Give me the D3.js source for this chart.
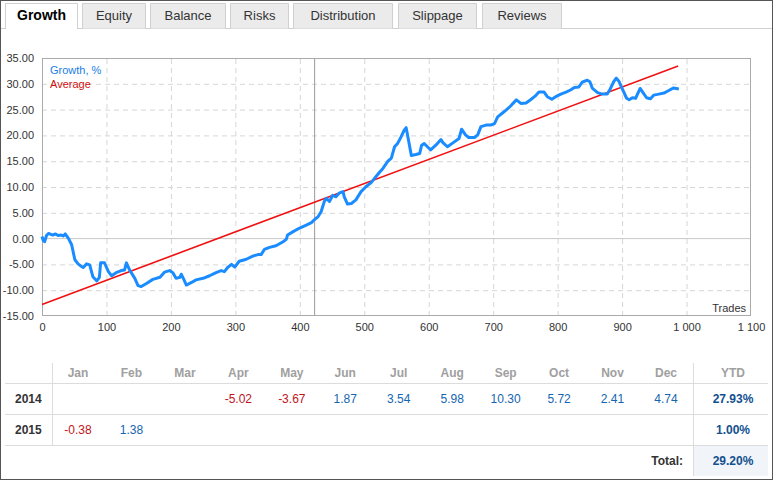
<!DOCTYPE html>
<html>
<head>
<meta charset="utf-8">
<script src="https://cdn.jsdelivr.net/npm/d3@7/dist/d3.min.js"></script>
<style>
  body { margin: 0; background: #fff; }
  svg { display: block; font-family: "Liberation Sans", Arial, sans-serif; }
  .grid line { stroke: #d6d6d6; stroke-dasharray: 5,4; }
  .grid .domain { display: none; }
  .axis text { fill: #333; font-size: 11px; }
  .axis .domain, .axis line { display: none; }
</style>
</head>
<body>
<div id="chart"></div>
<script>
/* ---------- Data ---------- */
const tabs = ["Growth", "Equity", "Balance", "Risks", "Distribution", "Slippage", "Reviews"];
const tabEdges = [[5, 78], [82, 146], [150, 226], [230, 289], [293, 393], [398, 477], [482, 562]];

const trades = [0, 2, 4, 7, 10, 14, 17, 21, 25, 30, 33, 36, 41, 46, 51, 56, 60, 64, 69, 74,
  79, 85, 89, 91, 97, 103, 108, 115, 123, 128, 131, 136, 144, 149, 154, 162, 172, 183, 190, 198,
  203, 208, 214, 216, 220, 224, 232, 239, 250, 260, 270, 278, 283, 288, 294, 299, 306, 317, 327, 335,
  340, 345, 353, 363, 374, 379, 381, 389, 399, 410, 418, 423, 428, 433, 438, 441, 446, 451, 456, 461,
  467, 469, 474, 480, 487, 495, 503, 511, 518, 524, 529, 536, 542, 547, 552, 557, 562, 565, 569, 573,
  580, 586, 589, 593, 598, 603, 611, 619, 622, 629, 637, 647, 651, 657, 662, 671, 676, 681, 689, 696,
  702, 707, 714, 720, 727, 733, 736, 743, 751, 758, 765, 771, 779, 784, 791, 797, 805, 813, 820, 826,
  833, 838, 846, 850, 854, 862, 869, 877, 882, 887, 891, 895, 900, 907, 911, 916, 921, 928, 933, 938,
  944, 949, 957, 965, 971, 980, 988];
const growth = [0.4, -0.4, -0.6, 0.6, 1.0, 0.8, 0.7, 0.9, 0.6, 0.7, 0.5, 0.9, 0.05, -1.2, -4.1, -4.9, -5.3, -5.6, -4.9, -5.1,
  -7.4, -8.2, -7.5, -4.7, -4.7, -6.4, -7.2, -6.6, -6.2, -6.1, -4.7, -6.1, -7.7, -9.1, -9.3, -8.7, -7.9, -7.5, -6.5, -6.2,
  -6.6, -7.7, -7.5, -6.9, -7.9, -9.0, -8.5, -8.0, -7.7, -7.2, -6.6, -6.2, -6.4, -5.6, -5.0, -5.5, -4.4, -4.0, -3.4, -3.1,
  -3.1, -2.1, -1.7, -1.4, -0.6, -0.15, 0.7, 1.3, 2.0, 2.6, 3.1, 3.7, 4.2, 5.2, 7.2, 7.8, 7.2, 8.4, 8.1, 8.8,
  9.1, 8.1, 6.7, 6.8, 7.5, 9.1, 10.1, 10.9, 12.0, 12.9, 13.6, 14.9, 15.6, 17.8, 18.5, 19.7, 21.0, 21.5, 18.8, 16.1,
  16.3, 16.5, 18.1, 18.4, 17.8, 17.2, 18.1, 19.2, 18.6, 17.8, 18.5, 19.4, 21.2, 20.1, 19.6, 19.6, 20.1, 21.7, 22.0, 22.0,
  22.3, 23.6, 24.3, 24.9, 25.7, 26.5, 26.9, 26.2, 26.3, 26.9, 27.6, 28.4, 28.4, 27.5, 27.0, 27.5, 28.0, 28.4, 28.8, 29.3,
  29.4, 30.3, 30.7, 30.4, 29.1, 28.3, 28.0, 28.0, 29.1, 30.4, 31.1, 30.5, 29.1, 27.2, 26.9, 27.3, 27.2, 29.1, 28.2, 27.3,
  27.1, 27.8, 28.0, 28.2, 28.6, 29.2, 29.0];

const avgTrades = [0, 987];
const avgGrowth = [-12.75, 33.45];
const markerTrade = 423;

const xTicks = [0, 100, 200, 300, 400, 500, 600, 700, 800, 900, 1000, 1100];
const yTicks = [-15, -10, -5, 0, 5, 10, 15, 20, 25, 30, 35];

const months = ["Jan", "Feb", "Mar", "Apr", "May", "Jun", "Jul", "Aug", "Sep", "Oct", "Nov", "Dec"];
const years = ["2014", "2015"];
const monthly2014 = [null, null, null, -5.02, -3.67, 1.87, 3.54, 5.98, 10.30, 5.72, 2.41, 4.74];
const monthly2015 = [-0.38, 1.38, null, null, null, null, null, null, null, null, null, null];
const ytd = ["27.93%", "1.00%"];
const total = "29.20%";

// plain hyphen for negatives, space as thousands separator
const loc = d3.formatLocale({ decimal: ".", thousands: " ", grouping: [3], currency: ["", ""], minus: "-" });
const fmt2 = loc.format(".2f");
const fmtX = loc.format(",");

/* ---------- Page ---------- */
const W = 773, H = 480;
const svg = d3.select("#chart").append("svg").attr("width", W).attr("height", H);

// tabs
svg.append("line").attr("x1", 0).attr("x2", W).attr("y1", 28.5).attr("y2", 28.5).attr("stroke", "#d0d0d0");
tabs.forEach((name, i) => {
  const [a, b] = tabEdges[i];
  const active = i === 0;
  svg.append("path")
    .attr("d", `M${a + 0.5},${active ? 29 : 28.5}V3.5H${b - 0.5}V${active ? 29 : 28.5}`)
    .attr("fill", active ? "#fff" : "#ebebeb")
    .attr("stroke", "#d0d0d0");
  svg.append("text")
    .attr("x", (a + b) / 2).attr("y", 20)
    .attr("text-anchor", "middle")
    .attr("font-size", active ? 14 : 13)
    .attr("font-weight", active ? "bold" : "normal")
    .attr("fill", active ? "#000" : "#333")
    .text(name);
});

/* ---------- Chart ---------- */
const M = { left: 42, right: 751, top: 58, bottom: 316 };
const x = d3.scaleLinear().domain([0, 1100]).range([M.left, M.right]);
const y = d3.scaleLinear().domain([-15, 35]).range([M.bottom, M.top]);

svg.append("g").attr("class", "grid")
  .attr("transform", `translate(0,${M.bottom})`)
  .call(d3.axisBottom(x).tickValues(xTicks.slice(1, -1)).tickSize(-(M.bottom - M.top)).tickFormat(""));
svg.append("g").attr("class", "grid")
  .attr("transform", `translate(${M.left},0)`)
  .call(d3.axisLeft(y).tickValues(yTicks.filter(v => v !== 0 && v !== -15 && v !== 35))
    .tickSize(-(M.right - M.left)).tickFormat(""));

// zero line and marker
svg.append("line").attr("x1", M.left).attr("x2", M.right).attr("y1", y(0)).attr("y2", y(0)).attr("stroke", "#c8c8c8");
svg.append("line").attr("x1", x(markerTrade)).attr("x2", x(markerTrade))
  .attr("y1", M.top).attr("y2", M.bottom).attr("stroke", "#999");

// frame
svg.append("rect").attr("x", M.left + 0.5).attr("y", M.top + 0.5)
  .attr("width", M.right - M.left - 1).attr("height", M.bottom - M.top - 1)
  .attr("fill", "none").attr("stroke", "#aaa");

// axes labels
svg.append("g").attr("class", "axis")
  .attr("transform", `translate(0,${M.bottom + 4})`)
  .call(d3.axisBottom(x).tickValues(xTicks).tickSize(0).tickFormat(fmtX));
svg.append("g").attr("class", "axis")
  .attr("transform", `translate(${M.left - 5},0)`)
  .call(d3.axisLeft(y).tickValues(yTicks).tickSize(0).tickFormat(fmt2));

// series
const pts = trades.map((t, i) => [t, growth[i]]);
svg.append("path")
  .datum(d3.zip(avgTrades, avgGrowth))
  .attr("fill", "none").attr("stroke", "#f01010").attr("stroke-width", 1.6)
  .attr("d", d3.line().x(d => x(d[0])).y(d => y(d[1])));
svg.append("path")
  .datum(pts)
  .attr("fill", "none").attr("stroke", "#1a8cff").attr("stroke-width", 3)
  .attr("stroke-linejoin", "round")
  .attr("d", d3.line().x(d => x(d[0])).y(d => y(d[1])));

// legend + axis title
svg.append("text").attr("x", 50).attr("y", 74).attr("font-size", 11).attr("fill", "#1a7ee6").text("Growth, %");
svg.append("text").attr("x", 50).attr("y", 88).attr("font-size", 11).attr("fill", "#d01010").text("Average");
svg.append("text").attr("x", 746).attr("y", 312).attr("font-size", 11).attr("fill", "#333")
  .attr("text-anchor", "end").text("Trades");

/* ---------- Monthly table ---------- */
const col = d3.scalePoint().domain(months).range([78, 666]);
const ytdX = 733;
const rowY = [399, 430];
const hLines = [383.5, 414.5, 445.5];

svg.append("rect").attr("x", 693).attr("y", 446).attr("width", 75).attr("height", 30).attr("fill", "#f1f4f9");
hLines.forEach(v => svg.append("line").attr("x1", 5).attr("x2", 768).attr("y1", v).attr("y2", v).attr("stroke", "#dcdcdc"));
svg.append("line").attr("x1", 52.5).attr("x2", 52.5).attr("y1", 363).attr("y2", 445).attr("stroke", "#dcdcdc");
svg.append("line").attr("x1", 693.5).attr("x2", 693.5).attr("y1", 363).attr("y2", 476).attr("stroke", "#dcdcdc");

const tbl = svg.append("g").attr("font-size", 12).attr("text-anchor", "middle");
tbl.selectAll("text.head").data(months.concat(["YTD"])).join("text")
  .attr("x", (d, i) => i < 12 ? col(d) : ytdX).attr("y", 377)
  .attr("font-weight", "bold").attr("fill", "#a0a0a0").text(d => d);

[monthly2014, monthly2015].forEach((vals, r) => {
  tbl.append("text").attr("x", 15).attr("y", rowY[r] + 4).attr("text-anchor", "start")
    .attr("font-weight", "bold").attr("fill", "#333").text(years[r]);
  tbl.selectAll(null).data(vals.map((v, i) => ({ v, m: months[i] })).filter(d => d.v !== null)).join("text")
    .attr("x", d => col(d.m)).attr("y", rowY[r] + 4)
    .attr("fill", d => d.v < 0 ? "#c0141c" : "#1565b0")
    .text(d => fmt2(d.v));
  tbl.append("text").attr("x", ytdX).attr("y", rowY[r] + 4)
    .attr("font-weight", "bold").attr("fill", "#12508f").text(ytd[r]);
});
tbl.append("text").attr("x", 683).attr("y", 465).attr("text-anchor", "end")
  .attr("font-weight", "bold").attr("fill", "#333").text("Total:");
tbl.append("text").attr("x", ytdX).attr("y", 465)
  .attr("font-weight", "bold").attr("fill", "#12508f").text(total);

// outer border
svg.append("rect").attr("x", 0.5).attr("y", 0.5).attr("width", W - 1).attr("height", H - 1)
  .attr("fill", "none").attr("stroke", "#555");
</script>
</body>
</html>
